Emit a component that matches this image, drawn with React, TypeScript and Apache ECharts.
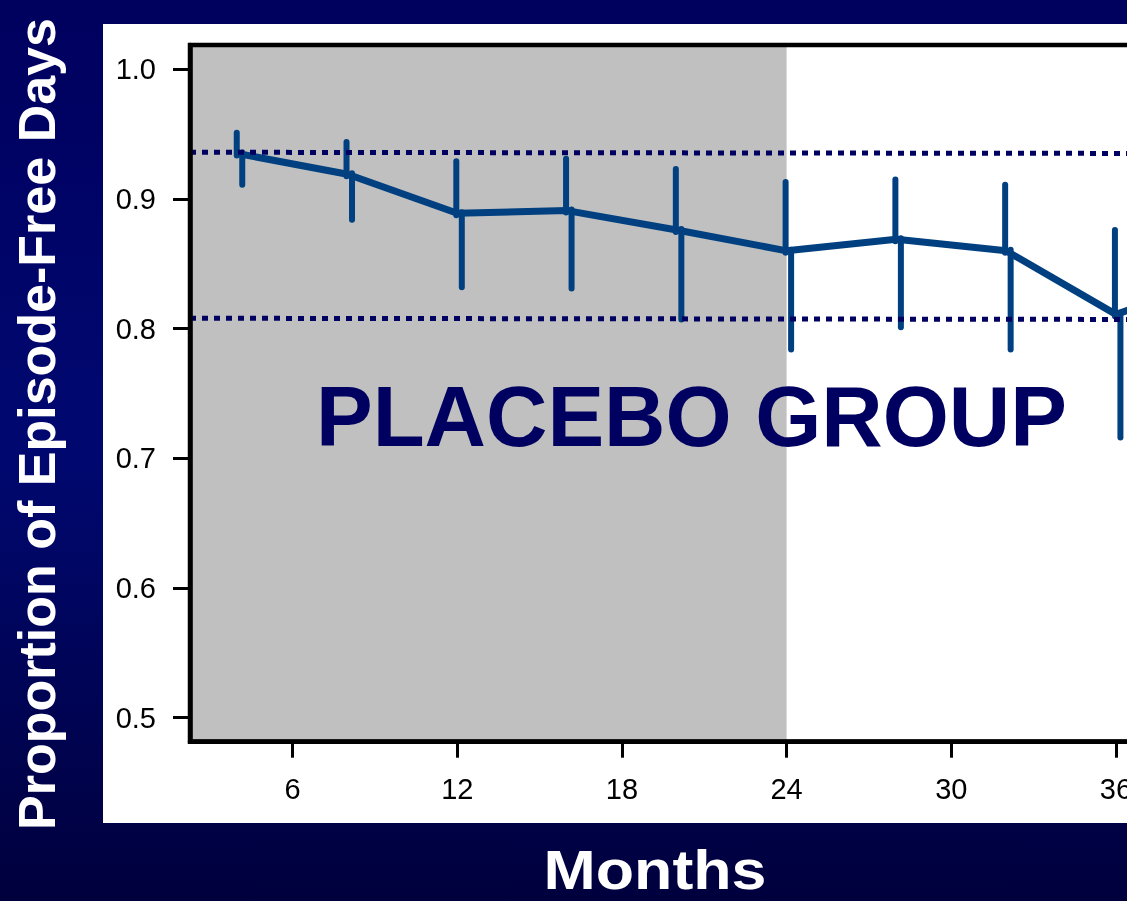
import React, { useEffect, useRef } from "react";
import * as echarts from "echarts";

// ---- data ----
const months = [4, 8, 12, 16, 20, 24, 28, 32, 36, 40];
const meanValues = [0.935, 0.919, 0.889, 0.891, 0.876, 0.86, 0.869, 0.86, 0.811, 0.84];
const upperValues = [0.951, 0.944, 0.929, 0.931, 0.923, 0.913, 0.915, 0.911, 0.876, null];
const lowerValues = [0.911, 0.884, 0.832, 0.831, 0.807, 0.784, 0.801, 0.784, 0.716, null];
const xTicks = [6, 12, 18, 24, 30, 36];
const yTicks = [0.5, 0.6, 0.7, 0.8, 0.9, 1.0];
const xRange = [2.26, 40];
const yRange = [0.4815, 1.0187];
const upperRefLine = [
  [2.26, 0.936],
  [40, 0.935],
];
const lowerRefLine = [
  [2.26, 0.808],
  [40, 0.807],
];
const shadedFrom = 2.26;
const shadedUntil = 24;
const groupLabel = "PLACEBO GROUP";
const xTitle = "Months";
const yTitle = "Proportion of Episode-Free Days";

const FONT = '"Liberation Sans", Arial, Helvetica, sans-serif';
const BLUE = "#004080";
const NAVY = "#000060";
const CANVAS_W = 1240;
const CANVAS_H = 901;

export default function App() {
  const ref = useRef<HTMLDivElement>(null);

  useEffect(() => {
    if (!ref.current) return;
    const chart = echarts.init(ref.current, undefined, { renderer: "svg" });

    const lineData = months.map((m, i) => [m, meanValues[i]]);
    const barData = months
      .map((m, i) => [m, meanValues[i], upperValues[i], lowerValues[i]])
      .filter((d) => d[2] != null && d[3] != null);

    const option: any = {
      animation: false,
      graphic: {
        elements: [
          {
            type: "rect",
            z: -20,
            silent: true,
            shape: { x: 0, y: 0, width: CANVAS_W, height: CANVAS_H },
            style: {
              fill: new echarts.graphic.LinearGradient(0, 0, 0, 1, [
                { offset: 0, color: "#00005e" },
                { offset: 0.5, color: "#000870" },
                { offset: 1, color: "#00003d" },
              ]),
            },
          },
          {
            type: "rect",
            z: -19,
            silent: true,
            shape: { x: 103, y: 24, width: CANVAS_W - 103, height: 799 },
            style: { fill: "#ffffff" },
          },
          {
            type: "text",
            z: 50,
            x: 316,
            y: 416,
            style: {
              text: groupLabel,
              font: `bold 85px ${FONT}`,
              fill: NAVY,
              align: "left",
              textAlign: "left",
              verticalAlign: "middle",
              textVerticalAlign: "middle",
            },
          },
          {
            type: "text",
            z: 50,
            x: 655,
            y: 870,
            scaleX: 1.12,
            style: {
              text: xTitle,
              font: `bold 56px ${FONT}`,
              fill: "#ffffff",
              align: "center",
              textAlign: "center",
              verticalAlign: "middle",
              textVerticalAlign: "middle",
            },
          },
          {
            type: "text",
            z: 50,
            x: 37,
            y: 424,
            rotation: Math.PI / 2,
            style: {
              text: yTitle,
              font: `bold 52px ${FONT}`,
              fill: "#ffffff",
              align: "center",
              textAlign: "center",
              verticalAlign: "middle",
              textVerticalAlign: "middle",
            },
          },
        ],
      },
      grid: {
        show: true,
        z: 10,
        left: 190,
        top: 45,
        right: CANVAS_W - 1225.7,
        bottom: 159.3,
        borderColor: "#000",
        borderWidth: 4.5,
        backgroundColor: "transparent",
      },
      xAxis: {
        type: "value",
        z: 10,
        min: xRange[0],
        max: xRange[1],
        splitLine: { show: false },
        axisLine: { show: true, lineStyle: { color: "#000", width: 4.5 } },
        axisTick: {
          show: true,
          customValues: xTicks,
          length: 16,
          lineStyle: { color: "#000", width: 3 },
        },
        axisLabel: {
          customValues: xTicks,
          fontSize: 29,
          fontFamily: FONT,
          color: "#000",
          margin: 33,
        },
      },
      yAxis: {
        type: "value",
        z: 10,
        min: yRange[0],
        max: yRange[1],
        splitLine: { show: false },
        axisLine: { show: true, lineStyle: { color: "#000", width: 4.5 } },
        axisTick: {
          show: true,
          customValues: yTicks,
          length: 17,
          lineStyle: { color: "#000", width: 3 },
        },
        axisLabel: {
          customValues: yTicks,
          fontSize: 29,
          fontFamily: FONT,
          color: "#000",
          margin: 34,
          formatter: (v: number) => v.toFixed(1),
        },
      },
      series: [
        {
          type: "line",
          z: 1,
          data: [[shadedFrom, yRange[0]]],
          symbol: "none",
          lineStyle: { width: 0 },
          silent: true,
          markArea: {
            silent: true,
            itemStyle: { color: "#c0c0c0" },
            data: [[{ xAxis: shadedFrom }, { xAxis: shadedUntil }]],
          },
        },
        {
          type: "line",
          z: 3,
          data: lineData,
          symbol: "none",
          lineStyle: { color: BLUE, width: 7, join: "round" },
        },
        {
          type: "custom",
          z: 3,
          data: barData,
          encode: { x: 0, y: [1, 2, 3] },
          renderItem: (params: any, api: any) => {
            const m = api.value(0);
            const pm = api.coord([m, api.value(1)]);
            const ph = api.coord([m, api.value(2)]);
            const pl = api.coord([m, api.value(3)]);
            const style = { stroke: BLUE, lineWidth: 6, lineCap: "round" };
            return {
              type: "group",
              children: [
                {
                  type: "line",
                  shape: { x1: pm[0] - 1, y1: pm[1] + 2, x2: ph[0] - 1, y2: ph[1] },
                  style,
                },
                {
                  type: "line",
                  shape: { x1: pm[0] + 4.5, y1: pm[1] - 1, x2: pl[0] + 4.5, y2: pl[1] },
                  style,
                },
              ],
            };
          },
        },
        {
          type: "line",
          z: 4,
          data: upperRefLine,
          symbol: "none",
          lineStyle: { color: NAVY, width: 5, type: [6, 6], cap: "butt" },
        },
        {
          type: "line",
          z: 4,
          data: lowerRefLine,
          symbol: "none",
          lineStyle: { color: NAVY, width: 5, type: [6, 6], cap: "butt" },
        },
      ],
    };

    chart.setOption(option);
    return () => chart.dispose();
  }, []);

  return (
    <div
      ref={ref}
      style={{ position: "fixed", left: 0, top: 0, width: CANVAS_W, height: CANVAS_H }}
    />
  );
}
